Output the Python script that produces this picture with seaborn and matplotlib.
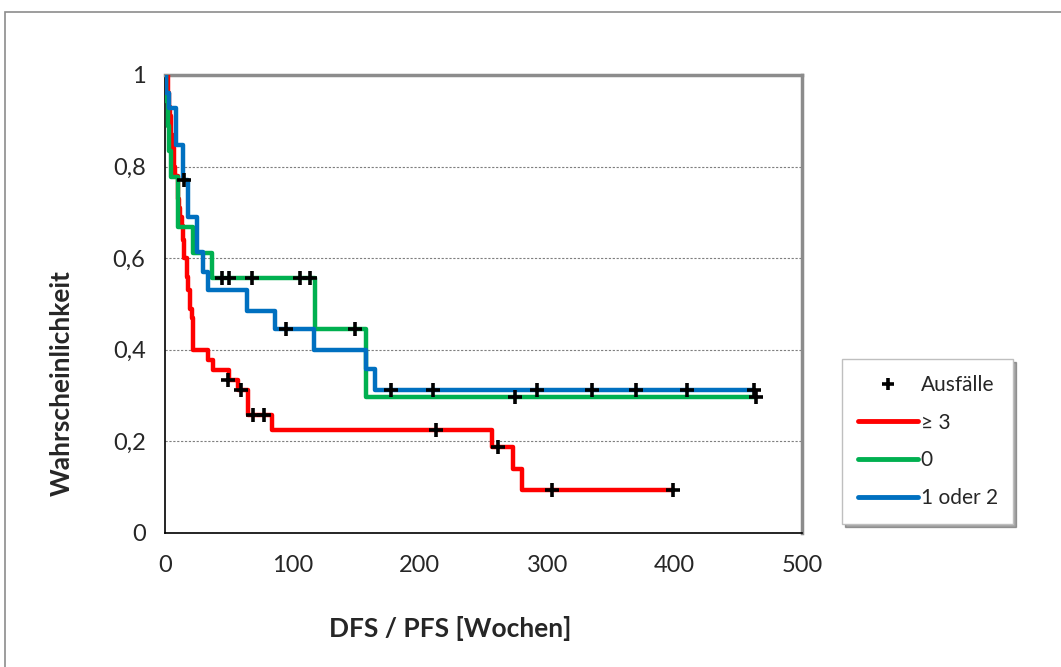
import matplotlib
matplotlib.use("Agg")
import matplotlib.pyplot as plt
import seaborn as sns
import pandas as pd
from matplotlib.lines import Line2D
from matplotlib.patches import Rectangle

# --- data (Kaplan-Meier steps, weeks) ---
red_t = [0, 2, 3, 4, 5, 6, 7, 8, 10, 11, 12, 13, 14, 15, 17, 18, 20, 21, 22, 34, 38, 50, 57, 65, 84, 257, 273, 280, 399]
red_s = [1.0, 0.96, 0.93, 0.91, 0.87, 0.84, 0.80, 0.78, 0.73, 0.71, 0.69, 0.67, 0.64, 0.60, 0.56, 0.53, 0.49, 0.47, 0.40,
         0.378, 0.356, 0.334, 0.312, 0.258, 0.225, 0.187, 0.14, 0.094, 0.094]

green_t = [0, 1, 2, 3, 5, 10, 22, 37, 118, 158, 464]
green_s = [1.0, 0.944, 0.889, 0.833, 0.778, 0.667, 0.611, 0.556, 0.445, 0.297, 0.297]

blue_t = [0, 1, 3, 9, 14, 18, 25, 30, 34, 64, 86, 117, 158, 165, 462]
blue_s = [1.0, 0.96, 0.928, 0.847, 0.77, 0.69, 0.613, 0.57, 0.53, 0.485, 0.445, 0.40, 0.357, 0.312, 0.312]

# censored observations ("Ausfälle")
cens_t = [49.5, 59.7, 69, 78, 213, 261, 304, 399,
          45, 50, 68, 106, 114, 149, 275, 464,
          15, 95, 177, 210, 292, 335, 370, 410, 462]
cens_s = [0.334, 0.312, 0.258, 0.258, 0.225, 0.187, 0.094, 0.094,
          0.556, 0.556, 0.556, 0.556, 0.556, 0.445, 0.297, 0.297,
          0.77, 0.445, 0.312, 0.312, 0.312, 0.312, 0.312, 0.312, 0.312]

groups = ['≥ 3', '0', '1 oder 2']
colors = {'≥ 3': '#FF0000', '0': '#00B050', '1 oder 2': '#0070C0'}

df = pd.concat([
    pd.DataFrame({'t': red_t, 's': red_s, 'grp': '≥ 3'}),
    pd.DataFrame({'t': green_t, 's': green_s, 'grp': '0'}),
    pd.DataFrame({'t': blue_t, 's': blue_s, 'grp': '1 oder 2'}),
])
cens = pd.DataFrame({'t': cens_t, 's': cens_s})

sns.set_style("white")
plt.rcParams['font.family'] = ['Lato', 'DejaVu Sans']

fig = plt.figure(figsize=(10.61, 6.67), dpi=100)
ax = fig.add_axes([0.1555, 0.2009, 0.6005, 0.6867])

# outer chart frame
fig.patches.append(Rectangle((5 / 1061, -0.1), 1.2, 1 - 12 / 667 + 0.1, transform=fig.transFigure,
                             fill=False, edgecolor='#8c8c8c', linewidth=1.2))

for g in groups:
    sub = df[df['grp'] == g]
    sns.lineplot(data=sub, x='t', y='s', ax=ax, color=colors[g], linewidth=3.2,
                 drawstyle='steps-post', estimator=None, sort=False, zorder=3)

sns.scatterplot(data=cens, x='t', y='s', ax=ax, marker='+', s=90, linewidth=2.6,
                color='black', zorder=4)

ax.set_xlim(0, 500)
ax.set_ylim(0, 1)
ax.set_xticks([0, 100, 200, 300, 400, 500])
ax.set_yticks([0, 0.2, 0.4, 0.6, 0.8, 1])
ax.set_yticklabels(['0', '0,2', '0,4', '0,6', '0,8', '1'])
ax.tick_params(axis='x', direction='out', length=8, width=1, labelsize=17, pad=8)
ax.tick_params(axis='y', direction='in', length=12, width=2.2, labelsize=17, pad=14)
ax.yaxis.grid(True, linestyle=(0, (2, 1.5)), color='#7f7f7f', linewidth=0.8)

for side in ['left', 'bottom']:
    ax.spines[side].set_color('black')
    ax.spines[side].set_linewidth(1.2)
for side in ['top', 'right']:
    ax.spines[side].set_color('#8c8c8c')
    ax.spines[side].set_linewidth(2.5)

ax.set_xlabel('DFS / PFS [Wochen]', fontsize=19, fontweight='bold')
ax.set_ylabel('Wahrscheinlichkeit', fontsize=19, fontweight='bold')
ax.xaxis.set_label_coords((450 - 165) / 637, -(628 - 533) / 458)
ax.yaxis.set_label_coords(-(165 - 62) / 637, (533 - 383) / 458)
ax.xaxis.label.set_va('center')
ax.yaxis.label.set_va('center')

handles = [Line2D([], [], color='black', marker='+', linestyle='none', markersize=9, markeredgewidth=2.6)]
handles += [Line2D([], [], color=colors[g], linewidth=3.5) for g in groups]
labels = ['Ausfälle'] + groups
fig.legend(handles, labels, loc='center', bbox_to_anchor=(0.8745, 0.338), fontsize=15,
           frameon=True, fancybox=False, shadow=True, edgecolor='#bfbfbf', handlelength=2.9,
           handletextpad=0.1, labelspacing=0.85, borderpad=0.75)

fig.savefig('out.png', dpi=100)
